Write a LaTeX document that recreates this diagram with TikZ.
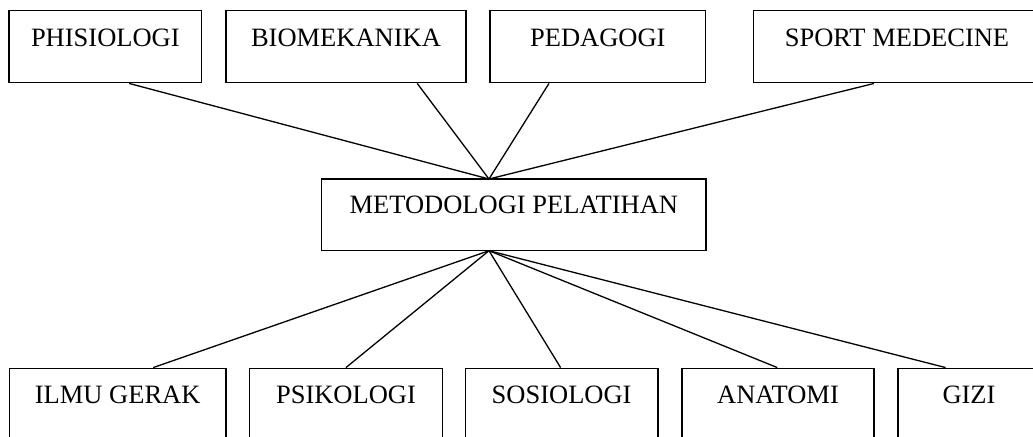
\documentclass[tikz,border=0pt]{standalone}
\usepackage{fontspec}
\setmainfont{Liberation Serif}
\begin{document}
\begin{tikzpicture}[x=0.5pt,y=-0.5pt,
  bx/.style={draw, line width=0.75pt, inner sep=0pt, anchor=base,
    font=\fontsize{13.25pt}{15pt}\selectfont},
  topbx/.style={bx, text height=18pt, text depth=18pt},
  midbx/.style={bx, text height=17.2pt, text depth=18.7pt},
  botbx/.style={bx, text height=17.5pt, text depth=40pt},
  link/.style={line width=0.65pt}]
\useasboundingbox (0,0) rectangle (1033,436);
\clip (0,0) rectangle (1033,436);
% top row
\node[topbx, minimum width=96.35pt] (phis) at (105.35,46.7) {PHISIOLOGI};
\node[topbx, minimum width=120pt] (bio) at (346,46.7) {BIOMEKANIKA};
\node[topbx, minimum width=107.85pt] (ped) at (597.85,46.7) {PEDAGOGI};
\node[topbx, minimum width=143.3pt] (sport) at (897,46.7) {SPORT MEDECINE};
% middle
\node[midbx, minimum width=192.15pt] (m) at (513.85,213.3) {METODOLOGI PELATIHAN};
\coordinate (mt) at (489,179);
\coordinate (mb) at (489,250.7);
% bottom row
\node[botbx, minimum width=108.35pt] (ilmu) at (117.65,403.3) {ILMU GERAK};
\node[botbx, minimum width=96.7pt] (psi) at (346,403.3) {PSIKOLOGI};
\node[botbx, minimum width=96.35pt] (sos) at (561.65,403.3) {SOSIOLOGI};
\node[botbx, minimum width=96pt] (ana) at (778,403.3) {ANATOMI};
\node[botbx, minimum width=71pt] (gizi) at (969,403.3) {GIZI};
% connectors top
\draw[link] ([xshift=60.5pt]phis.south west) -- (mt);
\draw[link] ([xshift=96pt]bio.south west) -- (mt);
\draw[link] ([xshift=29.85pt]ped.south west) -- (mt);
\draw[link] ([xshift=60.5pt]sport.south west) -- (mt);
% connectors bottom
\draw[link] (mb) -- ([xshift=72.35pt]ilmu.north west);
\draw[link] (mb) -- ([xshift=48.7pt]psi.north west);
\draw[link] (mb) -- ([xshift=48pt]sos.north west);
\draw[link] (mb) -- ([xshift=48pt]ana.north west);
\draw[link] (mb) -- ([xshift=24.15pt]gizi.north west);
\end{tikzpicture}
\end{document}
